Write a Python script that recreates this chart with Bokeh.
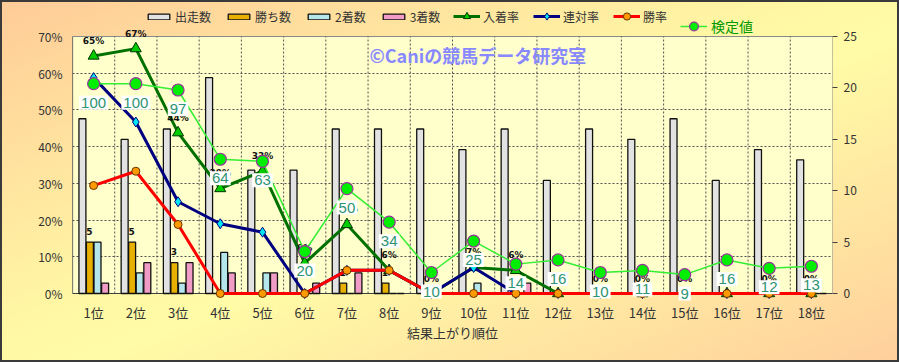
from bokeh.plotting import figure
from bokeh.models import (Range1d, LinearAxis, FixedTicker, PrintfTickFormatter, ColumnDataSource,
                          Legend, LegendItem, Label, CustomJSTickFormatter)
from bokeh.core.properties import value
from bokeh.transform import dodge
from bokeh.embed import file_html
from bokeh.resources import INLINE

# ---------------- data ----------------
categories = ["1位", "2位", "3位", "4位", "5位", "6位", "7位", "8位", "9位",
              "10位", "11位", "12位", "13位", "14位", "15位", "16位", "17位", "18位"]
starts  = [17, 15, 16, 21, 12, 12, 16, 16, 16, 14, 16, 11, 16, 15, 17, 11, 14, 13]
wins    = [5, 5, 3, 0, 0, 0, 1, 1, 0, 0, 0, 0, 0, 0, 0, 0, 0, 0]
seconds = [5, 2, 1, 4, 2, 0, 0, 0, 0, 1, 0, 0, 0, 0, 0, 0, 0, 0]
thirds  = [1, 3, 3, 2, 2, 1, 2, 0, 0, 0, 1, 0, 0, 0, 0, 0, 0, 0]
place_rate    = [64.7, 66.7, 43.8, 28.6, 33.3, 8.3, 18.8, 6.3, 0, 7.1, 6.3, 0, 0, 0, 0, 0, 0, 0]
quinella_rate = [58.8, 46.7, 25.0, 19.0, 16.7, 0, 6.3, 6.3, 0, 7.1, 0, 0, 0, 0, 0, 0, 0, 0]
win_rate      = [29.4, 33.3, 18.8, 0, 0, 0, 6.3, 6.3, 0, 0, 0, 0, 0, 0, 0, 0, 0, 0]
kentei        = [100, 100, 97, 64, 63, 20, 50, 34, 10, 25, 14, 16, 10, 11, 9, 16, 12, 13]
left_ticks  = [0, 10, 20, 30, 40, 50, 60, 70]
right_ticks = [0, 5, 10, 15, 20, 25]
LEFT_MAX, RIGHT_MAX, KT_MAX = 70, 25, 122.5

FONT = "Noto Sans CJK JP"

# layout: the frame reaches the top of the canvas and a little below the plot area,
# so that labels may spill over the plot-area edges as in the original
W, H = 899, 362
B_LEFT, B_RIGHT, B_BOTTOM = 72, 67, 61
AREA_TOP = 36          # px from canvas top to the plot-area top
AREA_PAD_BOTTOM = 8    # px of frame below the plot-area bottom
frame_h = H - B_BOTTOM
area_h = frame_h - AREA_TOP - AREA_PAD_BOTTOM


def stretched(vmax):
    lo = -vmax * AREA_PAD_BOTTOM / area_h
    hi = vmax * (frame_h - AREA_PAD_BOTTOM) / area_h
    return Range1d(lo, hi)


n = len(categories)
xs = [i + 0.5 for i in range(n)]
src = ColumnDataSource(dict(
    x=xs, starts=starts, wins=wins, seconds=seconds, thirds=thirds,
    place=place_rate, quin=quinella_rate, win=win_rate, kentei=kentei,
    place_txt=["%d%%" % round(v) for v in place_rate],
    win_txt=[str(v) if v > 0 else "" for v in wins],
    kentei_txt=[str(v) for v in kentei],
))

p = figure(width=W, height=H, x_range=Range1d(0, n), y_range=stretched(LEFT_MAX),
           output_backend="svg", toolbar_location=None,
           min_border_left=B_LEFT, min_border_right=B_RIGHT, min_border_top=0, min_border_bottom=B_BOTTOM)
p.extra_y_ranges = {"cnt": stretched(RIGHT_MAX), "kt": stretched(KT_MAX)}

p.border_fill_alpha = 0
p.background_fill_alpha = 0
p.outline_line_color = None
p.styles = {"background": "linear-gradient(to bottom right, #FFCB98 0%, #FFF7A4 45%, #FFFBA6 55%, #FFCF9C 100%)",
            "outline": "2px solid #3a3a3a", "outline-offset": "-2px"}

# plot area background + border
p.quad(left=[0], right=[n], bottom=[0], top=[LEFT_MAX], fill_color="#FFFFCC",
       line_color="#8a8a8a", line_width=1, level="image")
p.segment(x0=[0, 0], y0=[0, 0], x1=[0, n], y1=[LEFT_MAX, 0], line_color="#404040",
          line_width=1.2, level="underlay")

# grid
p.ygrid.ticker = FixedTicker(ticks=left_ticks[1:-1])
p.ygrid.grid_line_color = "#505050"
p.ygrid.grid_line_dash = "2 2"
p.ygrid.bounds = (0, n)
p.xgrid.visible = False
p.segment(x0=list(range(1, n)), y0=[0] * (n - 1), x1=list(range(1, n)), y1=[LEFT_MAX] * (n - 1),
          line_color="#505050", line_dash="2 2", line_width=1, level="underlay")

# left axis
ya = p.yaxis[0]
ya.ticker = FixedTicker(ticks=left_ticks)
ya.formatter = PrintfTickFormatter(format="%d%%")
ya.major_tick_out = 0
ya.major_tick_in = 0
ya.minor_tick_out = 0
ya.minor_tick_in = 0
ya.axis_line_color = None
ya.major_label_standoff = 10
ya.major_label_text_font = FONT
ya.major_label_text_font_size = "12px"
ya.major_label_text_color = "#333333"

# right axis
ra = LinearAxis(y_range_name="cnt", ticker=FixedTicker(ticks=right_ticks))
ra.major_tick_out = 5
ra.major_tick_in = 0
ra.minor_tick_out = 0
ra.minor_tick_in = 0
ra.axis_line_color = None
ra.major_tick_line_color = "#404040"
ra.major_label_standoff = 6
ra.major_label_text_font = FONT
ra.major_label_text_font_size = "12px"
ra.major_label_text_color = "#333333"
p.add_layout(ra, "right")

# bottom axis
xa = p.xaxis[0]
xa.ticker = FixedTicker(ticks=xs)
xa.formatter = CustomJSTickFormatter(args=dict(labels=categories),
                                     code="return labels[Math.round(tick - 0.5)];")
xa.major_tick_out = 0
xa.major_tick_in = 0
xa.minor_tick_out = 0
xa.minor_tick_in = 0
xa.axis_line_color = None
xa.major_label_standoff = 1
xa.major_label_text_font = FONT
xa.major_label_text_font_size = "13px"
xa.major_label_text_color = "#333333"
xa.axis_label = "結果上がり順位"
xa.axis_label_text_font = FONT
xa.axis_label_text_font_size = "13px"
xa.axis_label_text_font_style = "normal"
xa.axis_label_text_color = "#333333"
xa.axis_label_standoff = -2

# watermark
p.add_layout(Label(x=9.6, y=65, text="©Caniの競馬データ研究室", text_align="center",
                   text_baseline="middle", text_color="#8888FF", text_font=FONT,
                   text_font_size="18px", text_font_style="bold"))

# bars (count axis)
BW = 0.165
r_st = p.vbar(x=dodge("x", -0.265), top="starts", width=BW, source=src, y_range_name="cnt",
              fill_color="#E2E2E2", line_color="#111111", line_width=1.3)
r_w = p.vbar(x=dodge("x", -0.088), top="wins", width=BW, source=src, y_range_name="cnt",
             fill_color="#E8B000", line_color="#111111", line_width=1.3)
r_2 = p.vbar(x=dodge("x", 0.092), top="seconds", width=BW, source=src, y_range_name="cnt",
             fill_color="#B4E6EC", line_color="#111111", line_width=1.3)
r_3 = p.vbar(x=dodge("x", 0.272), top="thirds", width=BW, source=src, y_range_name="cnt",
             fill_color="#F09CC6", line_color="#111111", line_width=1.3)

p.text(x=dodge("x", -0.1), y="wins", text="win_txt", source=src, y_range_name="cnt",
       y_offset=-11, text_align="center", text_baseline="middle",
       text_font=value("DejaVu Sans"), text_font_size="9px", text_font_style="bold", text_color="#111111")

# lines
l_pl = p.line(x="x", y="place", source=src, line_color="#007000", line_width=3)
m_pl = p.scatter(x="x", y="place", source=src, marker="triangle", size=11,
                 fill_color="#00CC00", line_color="#003300", line_width=1)
l_qu = p.line(x="x", y="quin", source=src, line_color="#000080", line_width=3)
m_qu = p.scatter(x="x", y="quin", source=src, marker="diamond", size=10,
                 fill_color="#00E5F5", line_color="#000080", line_width=1)
l_wi = p.line(x="x", y="win", source=src, line_color="#FF0000", line_width=3)
m_wi = p.scatter(x="x", y="win", source=src, marker="circle", size=8,
                 fill_color="#FF9900", line_color="#663300", line_width=1)

p.text(x="x", y="place", text="place_txt", source=src, y_offset=-15,
       text_align="center", text_baseline="middle",
       text_font=value("DejaVu Sans"), text_font_size="9px", text_font_style="bold", text_color="#111111")

l_kt = p.line(x="x", y="kentei", source=src, y_range_name="kt", line_color="#33EE33", line_width=1.5)
m_kt = p.scatter(x="x", y="kentei", source=src, y_range_name="kt", marker="circle", size=12,
                 fill_color="#00EE00", line_color="#993399", line_width=1.2)

p.text(x="x", y="kentei", text="kentei_txt", source=src, y_range_name="kt", y_offset=19,
       text_align="center", text_baseline="middle",
       text_font=value("Liberation Sans"), text_font_size="15px", text_color="#2F9472",
       background_fill_color="white", padding=2)

# legends (inside the top strip of the frame)
common = dict(orientation="horizontal", padding=0, margin=0, spacing=14, glyph_width=27,
              label_standoff=3, label_text_font=FONT, label_text_font_size="12px",
              label_text_color="#333333", background_fill_alpha=0, border_line_alpha=0)
leg_bars = Legend(items=[
    LegendItem(label="出走数", renderers=[r_st]),
    LegendItem(label="勝ち数", renderers=[r_w]),
    LegendItem(label="2着数", renderers=[r_2]),
    LegendItem(label="3着数", renderers=[r_3]),
], location=(73, 276), glyph_height=7, label_height=12, **common)
leg_lines = Legend(items=[
    LegendItem(label="入着率", renderers=[l_pl, m_pl]),
    LegendItem(label="連対率", renderers=[l_qu, m_qu]),
    LegendItem(label="勝率", renderers=[l_wi, m_wi]),
], location=(381, 276), glyph_height=18, label_height=12, **common)
leg_kt = Legend(items=[LegendItem(label="検定値", renderers=[l_kt, m_kt])],
                orientation="horizontal", location=(608, 264), padding=0, margin=0,
                glyph_width=27, glyph_height=22, label_standoff=4, label_height=14,
                label_text_font=FONT, label_text_font_size="14px", label_text_color="#009900",
                background_fill_alpha=0, border_line_alpha=0)
p.add_layout(leg_bars, "center")
p.add_layout(leg_lines, "center")
p.add_layout(leg_kt, "center")

open("out.html", "w").write(file_html(p, INLINE))
